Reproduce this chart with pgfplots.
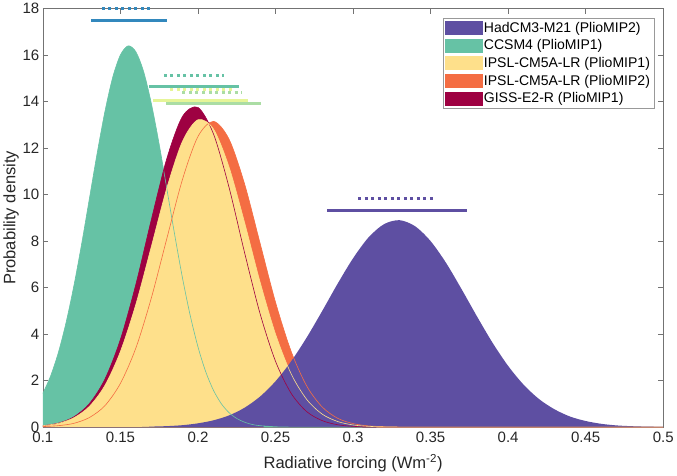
\documentclass[border=0pt]{standalone}
\usepackage{pgfplots}
\usepackage{pgfplotstable}
\pgfplotsset{compat=1.18}
\usepackage{fontspec}
\setmainfont{Liberation Sans}
\definecolor{hadc}{HTML}{5E4FA2}
\definecolor{ccsm}{HTML}{66C2A5}
\definecolor{ipslone}{HTML}{FEE08B}
\definecolor{ipsltwo}{HTML}{F46D43}
\definecolor{giss}{HTML}{9E0142}
\definecolor{bluebar}{HTML}{3288BD}
\definecolor{limebar}{HTML}{E6F598}
\definecolor{mintbar}{HTML}{ABDDA4}

% probability density curves
\pgfplotstableread{
x y
0.100 1.45
0.105 2.20
0.110 3.21
0.115 4.51
0.120 6.08
0.125 7.88
0.130 9.83
0.135 11.78
0.140 13.57
0.145 15.04
0.150 16.01
0.155 16.40
0.160 16.14
0.165 15.28
0.170 13.90
0.175 12.16
0.180 10.22
0.185 8.27
0.190 6.42
0.195 4.80
0.200 3.45
0.205 2.38
0.210 1.58
0.215 1.01
0.220 0.62
0.225 0.37
0.230 0.21
0.235 0.11
0.240 0.06
0.250 0.015
0.260 0.0
0.500 0.0
}\ccsmtab

\pgfplotstableread{
x y
0.10 0.02
0.11 0.06
0.12 0.16
0.13 0.41
0.14 0.92
0.15 1.88
0.16 3.41
0.17 5.57
0.18 8.13
0.19 10.65
0.20 12.50
0.21 13.15
0.22 12.39
0.23 10.47
0.24 7.92
0.25 5.37
0.26 3.27
0.27 1.78
0.28 0.87
0.29 0.38
0.30 0.15
0.31 0.05
0.32 0.02
0.33 0.0
0.50 0.0
}\ipsltwotab

\pgfplotstableread{
x y
0.10 0.06
0.11 0.17
0.12 0.44
0.13 1.01
0.14 2.06
0.15 3.77
0.16 6.15
0.17 8.94
0.18 11.57
0.19 13.36
0.20 13.75
0.21 12.61
0.22 10.32
0.23 7.52
0.24 4.89
0.25 2.83
0.26 1.46
0.27 0.67
0.28 0.28
0.29 0.10
0.30 0.03
0.31 0.01
0.32 0.0
0.50 0.0
}\gisstab

\pgfplotstableread{
x y
0.10 0.06
0.11 0.16
0.12 0.40
0.13 0.89
0.14 1.79
0.15 3.25
0.16 5.29
0.17 7.78
0.18 10.30
0.19 12.29
0.20 13.22
0.21 12.82
0.22 11.19
0.23 8.81
0.24 6.25
0.25 4.00
0.26 2.30
0.27 1.20
0.28 0.56
0.29 0.24
0.30 0.09
0.31 0.03
0.32 0.01
0.33 0.0
0.50 0.0
}\ipslonetab

\pgfplotstableread{
x y
0.10 0.0
0.16 0.0
0.17 0.02
0.18 0.04
0.19 0.08
0.20 0.16
0.21 0.29
0.22 0.50
0.23 0.83
0.24 1.31
0.25 1.97
0.26 2.82
0.27 3.84
0.28 4.98
0.29 6.16
0.30 7.26
0.31 8.16
0.32 8.73
0.33 8.90
0.34 8.64
0.35 8.00
0.36 7.06
0.37 5.93
0.38 4.75
0.39 3.62
0.40 2.63
0.41 1.82
0.42 1.20
0.43 0.76
0.44 0.45
0.45 0.26
0.46 0.14
0.47 0.07
0.48 0.036
0.49 0.017
0.50 0.008
}\hadtab

\begin{document}
\begin{tikzpicture}
\begin{axis}[
  width=619pt, height=417.5pt, scale only axis,
  xmin=0.1, xmax=0.5, ymin=0, ymax=18,
  xtick={0.1,0.15,0.2,0.25,0.3,0.35,0.4,0.45,0.5},
  xticklabels={0.1,0.15,0.2,0.25,0.3,0.35,0.4,0.45,0.5},
  ytick={0,2,4,6,8,10,12,14,16,18},
  tick align=inside, tick pos=both, major tick length=5pt,
  axis line style={black!55}, every tick/.style={black!55},
  clip=false,
  /pgf/number format/assume math mode=true,
  tick label style={font=\fontsize{15}{18}\selectfont, text=black!85},
  xticklabel style={yshift=-1pt},
  label style={font=\fontsize{16.5}{19}\selectfont, text=black!85},
  xlabel={Radiative forcing (Wm\textsuperscript{-2})},
  xlabel style={yshift=-5pt},
  ylabel={Probability density},
  ylabel style={yshift=-3pt},
  legend style={at={(1,1)}, anchor=north east, xshift=-9pt, yshift=-9pt,
    draw=black!40, fill=white, font=\fontsize{14}{16}\selectfont,
    inner xsep=2pt, inner ysep=2pt, row sep=2pt},
  legend cell align=left,
]
\addlegendimage{legend image code/.code={\fill[hadc] (0pt,-6.5pt) rectangle (36pt,6.5pt);}}
\addlegendentry{HadCM3-M21 (PlioMIP2)}
\addlegendimage{legend image code/.code={\fill[ccsm] (0pt,-6.5pt) rectangle (36pt,6.5pt);}}
\addlegendentry{CCSM4 (PlioMIP1)}
\addlegendimage{legend image code/.code={\fill[ipslone] (0pt,-6.5pt) rectangle (36pt,6.5pt);}}
\addlegendentry{IPSL-CM5A-LR (PlioMIP1)}
\addlegendimage{legend image code/.code={\fill[ipsltwo] (0pt,-6.5pt) rectangle (36pt,6.5pt);}}
\addlegendentry{IPSL-CM5A-LR (PlioMIP2)}
\addlegendimage{legend image code/.code={\fill[giss] (0pt,-6.5pt) rectangle (36pt,6.5pt);}}
\addlegendentry{GISS-E2-R (PlioMIP1)}

% filled densities, back to front
\addplot[draw=none, fill=ccsm, smooth, forget plot] table {\ccsmtab} \closedcycle;
\addplot[draw=none, fill=ipsltwo, smooth, forget plot] table {\ipsltwotab} \closedcycle;
\addplot[draw=none, fill=giss, smooth, forget plot] table {\gisstab} \closedcycle;
\addplot[draw=none, fill=ipslone, smooth, forget plot] table {\ipslonetab} \closedcycle;
\addplot[draw=none, fill=hadc, smooth, forget plot] table {\hadtab} \closedcycle;

% thin outlines on top
\addplot[ccsm, line width=0.6pt, smooth, forget plot] table {\ccsmtab};
\addplot[ipsltwo, line width=0.6pt, smooth, forget plot] table {\ipsltwotab};
\addplot[giss, line width=0.6pt, smooth, forget plot] table {\gisstab};
\addplot[ipslone, line width=0.6pt, smooth, forget plot] table {\ipslonetab};

% ranges above the curves
\addplot[bluebar, line width=3pt, forget plot] coordinates {(0.131,17.5) (0.180,17.5)};
\addplot[bluebar, line width=3pt, dash pattern=on 3pt off 3.5pt, forget plot] coordinates {(0.138,18) (0.1716,18)};
\addplot[ccsm, line width=3pt, forget plot] coordinates {(0.1685,14.65) (0.2267,14.65)};
\addplot[ccsm, line width=3pt, dash pattern=on 3pt off 3.5pt, forget plot] coordinates {(0.178,15.14) (0.217,15.14)};
\addplot[limebar, line width=3pt, dash pattern=on 3pt off 3.5pt, forget plot] coordinates {(0.182,14.52) (0.222,14.52)};
\addplot[mintbar, line width=3pt, dash pattern=on 3pt off 3.5pt, forget plot] coordinates {(0.190,14.40) (0.228,14.40)};
\addplot[mintbar, line width=3pt, forget plot] coordinates {(0.1795,13.93) (0.2409,13.93)};
\addplot[limebar, line width=3pt, forget plot] coordinates {(0.1713,14.05) (0.2323,14.05)};
\addplot[hadc, line width=3pt, forget plot] coordinates {(0.2835,9.31) (0.3733,9.31)};
\addplot[hadc, line width=3pt, dash pattern=on 3pt off 3.5pt, forget plot] coordinates {(0.3033,9.82) (0.3535,9.82)};
\end{axis}
\end{tikzpicture}
\end{document}
